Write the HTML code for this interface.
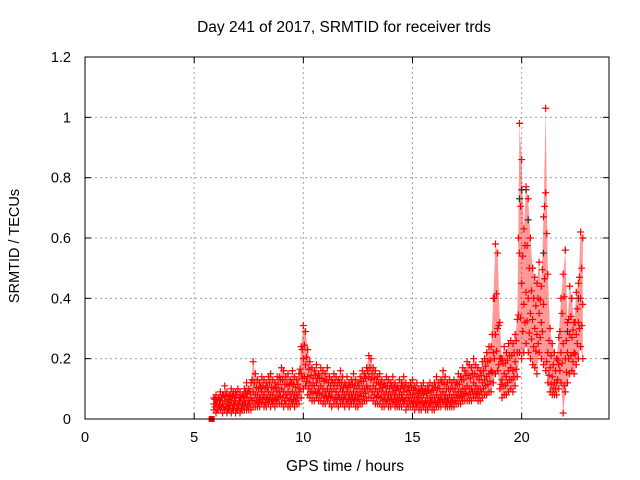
<!DOCTYPE html>
<html><head><meta charset="utf-8"><style>
body{margin:0;background:#fff}
svg{display:block;font-family:"Liberation Sans",sans-serif}
</style></head><body>
<svg id="chart" width="640" height="480">
<text x="344" y="32" font-size="15.5" text-anchor="middle">Day 241 of 2017, SRMTID for receiver trds</text>
<text transform="translate(19,246) rotate(-90)" font-size="14.5" text-anchor="middle">SRMTID / TECUs</text>
<text x="345" y="471" font-size="15.5" text-anchor="middle">GPS time / hours</text>
<g id="grid"></g><g id="ticks"></g><g id="band"></g><g id="marks"></g>
<rect x="85" y="57" width="524" height="362" fill="none" stroke="#000" stroke-width="1"/>
</svg>
<script>
const xTicks=[0,5,10,15,20];
const yTicks=[0,0.2,0.4,0.6,0.8,1,1.2];
const yTickLabels=["0","0.2","0.4","0.6","0.8","1","1.2"];
const times=[5.9,6.0,6.1,6.2,6.3,6.4,6.5,6.6,6.7,6.8,
6.9,7.0,7.1,7.2,7.3,7.4,7.5,7.6,7.7,7.8,
7.9,8.0,8.1,8.2,8.3,8.4,8.5,8.6,8.7,8.8,
8.9,9.0,9.1,9.2,9.3,9.4,9.5,9.6,9.7,9.8,
9.9,10.0,10.1,10.2,10.3,10.4,10.5,10.6,10.7,10.8,
10.9,11.0,11.1,11.2,11.3,11.4,11.5,11.6,11.7,11.8,
11.9,12.0,12.1,12.2,12.3,12.4,12.5,12.6,12.7,12.8,
12.9,13.0,13.1,13.2,13.3,13.4,13.5,13.6,13.7,13.8,
13.9,14.0,14.1,14.2,14.3,14.4,14.5,14.6,14.7,14.8,
14.9,15.0,15.1,15.2,15.3,15.4,15.5,15.6,15.7,15.8,
15.9,16.0,16.1,16.2,16.3,16.4,16.5,16.6,16.7,16.8,
16.9,17.0,17.1,17.2,17.3,17.4,17.5,17.6,17.7,17.8,
17.9,18.0,18.1,18.2,18.3,18.4,18.5,18.6,18.7,18.8,
18.9,19.0,19.1,19.2,19.3,19.4,19.5,19.6,19.7,19.8,
19.9,20.0,20.1,20.2,20.3,20.4,20.5,20.6,20.7,20.8,
20.9,21.0,21.1,21.2,21.3,21.4,21.5,21.6,21.7,21.8,
21.9,22.0,22.1,22.2,22.3,22.4,22.5,22.6,22.7,22.8];
const hi=[.07,.08,.07,.09,.08,.11,.09,.08,.10,.09,
.09,.10,.09,.08,.10,.12,.10,.12,.19,.15,
.13,.12,.14,.13,.12,.14,.15,.13,.12,.14,
.14,.17,.16,.14,.15,.13,.16,.14,.13,.15,
.24,.31,.29,.23,.19,.17,.16,.18,.15,.17,
.16,.15,.17,.14,.13,.15,.14,.13,.16,.14,
.12,.14,.12,.13,.15,.13,.12,.14,.16,.15,
.17,.21,.20,.17,.16,.14,.15,.13,.12,.14,
.13,.12,.14,.12,.11,.13,.12,.14,.12,.11,
.12,.13,.11,.12,.10,.11,.12,.10,.11,.12,
.11,.12,.14,.12,.13,.16,.14,.12,.13,.12,
.13,.12,.15,.14,.17,.16,.19,.18,.17,.20,
.18,.17,.16,.19,.20,.22,.24,.24,.40,.58,
.55,.32,.20,.24,.22,.25,.26,.25,.28,.33,
.98,.86,.63,.77,.73,.60,.50,.47,.45,.52,
.44,.67,1.03,.48,.30,.25,.22,.20,.27,.40,
.48,.56,.32,.44,.40,.32,.42,.45,.62,.60];
const mid=[.05,.05,.04,.06,.05,.06,.05,.05,.06,.05,
.06,.05,.06,.05,.06,.07,.06,.07,.09,.08,
.08,.07,.09,.08,.07,.09,.08,.08,.07,.09,
.09,.10,.09,.08,.09,.08,.09,.08,.08,.09,
.15,.20,.18,.14,.12,.11,.11,.12,.10,.11,
.10,.09,.10,.09,.09,.10,.09,.08,.10,.09,
.08,.09,.08,.08,.09,.08,.08,.09,.10,.10,
.11,.14,.13,.11,.10,.09,.10,.09,.08,.09,
.08,.08,.09,.08,.07,.08,.08,.09,.07,.07,
.08,.08,.07,.07,.07,.07,.08,.06,.07,.07,
.07,.07,.08,.07,.08,.09,.08,.07,.08,.07,
.08,.08,.09,.09,.10,.10,.11,.10,.10,.12,
.11,.10,.10,.12,.13,.14,.15,.16,.22,.28,
.30,.20,.13,.15,.14,.16,.17,.16,.19,.22,
.55,.45,.38,.42,.40,.35,.33,.30,.28,.35,
.32,.38,.75,.22,.17,.14,.12,.12,.18,.22,
.25,.20,.22,.28,.27,.22,.28,.32,.40,.38];
const lo=[.03,.02,.03,.03,.02,.03,.02,.03,.02,.03,
.02,.03,.02,.03,.03,.03,.03,.03,.04,.04,
.04,.04,.05,.04,.04,.05,.04,.05,.04,.05,
.05,.05,.04,.05,.04,.04,.05,.04,.05,.05,
.07,.10,.11,.08,.07,.06,.06,.07,.06,.06,
.05,.05,.06,.05,.04,.05,.05,.04,.05,.05,
.04,.05,.04,.05,.05,.04,.04,.05,.05,.06,
.06,.07,.07,.06,.05,.05,.05,.04,.04,.05,
.04,.04,.05,.04,.04,.04,.04,.05,.03,.04,
.04,.04,.03,.04,.03,.03,.04,.03,.03,.04,
.03,.03,.04,.04,.04,.05,.04,.04,.04,.04,
.04,.05,.05,.05,.06,.06,.06,.06,.06,.07,
.07,.06,.06,.07,.08,.08,.09,.09,.12,.15,
.16,.10,.07,.08,.08,.09,.10,.09,.11,.14,
.22,.20,.22,.25,.22,.20,.18,.17,.15,.22,
.20,.18,.16,.12,.09,.08,.08,.08,.10,.12,
.02,.09,.12,.15,.16,.15,.18,.20,.24,.20];
const darkTimes=[19.9,20.0,20.2,20.3,20.5,21.0,22.0,22.1,22.3,22.6];
const darkVals=[.73,.76,.76,.66,.50,.55,.56,.29,.40,.40];
const squareTime=5.8, squareVal=0.0;

const X0=85,X1=609,Y0=419,Y1=57,XMAX=24,YMAX=1.2;
function xs(t){return X0+(X1-X0)*t/XMAX;}
function ys(v){return Y0-(Y0-Y1)*v/YMAX;}
const NS="http://www.w3.org/2000/svg";
function mk(tag,attrs,parent){const e=document.createElementNS(NS,tag);for(const k in attrs)e.setAttribute(k,attrs[k]);parent.appendChild(e);return e;}
const grid=document.getElementById('grid'),ticks=document.getElementById('ticks'),band=document.getElementById('band'),marks=document.getElementById('marks');
xTicks.forEach(t=>{const x=xs(t);
 if(t>0){const g=mk('line',{x1:x,x2:x,y1:Y1,y2:Y0,stroke:'#a0a0a0','stroke-dasharray':'2,3'},grid);
 
 }
 mk('line',{x1:x,x2:x,y1:Y0,y2:Y0-6,stroke:'#000'},ticks);
 mk('line',{x1:x,x2:x,y1:Y1,y2:Y1+6,stroke:'#000'},ticks);
 const l=mk('text',{x:x,y:442,'font-size':'14.5','text-anchor':'middle'},ticks);l.textContent=t;
 
 
});
yTicks.forEach((v,i)=>{const y=ys(v);
 if(v>0&&v<YMAX){const g=mk('line',{x1:X0,x2:X1,y1:y,y2:y,stroke:'#a0a0a0','stroke-dasharray':'2,3'},grid);
 
 }
 mk('line',{x1:X0,x2:X0+6,y1:y,y2:y,stroke:'#000'},ticks);
 mk('line',{x1:X1,x2:X1-6,y1:y,y2:y,stroke:'#000'},ticks);
 const l=mk('text',{x:71,y:y+5,'font-size':'14.5','text-anchor':'end'},ticks);l.textContent=yTickLabels[i];
 
 
});
let d='';times.forEach((t,i)=>{d+=(i?'L':'M')+xs(t)+','+ys(hi[i]);});
for(let i=times.length-1;i>=0;i--)d+='L'+xs(times[i])+','+ys(lo[i]);
const b=mk('path',{d:d+'Z',fill:'#ff0000','fill-opacity':'0.4'},band);


function plus(t,v,col){const x=xs(t),y=ys(v);
 const p=mk('path',{d:`M${x-3.5},${y}H${x+3.5}M${x},${y-3.5}V${y+3.5}`,stroke:col,'stroke-width':1.2,fill:'none'},marks);
 
 }
darkTimes.forEach((t,i)=>plus(t,darkVals[i],'#333'));
times.forEach((t,i)=>{plus(t,lo[i],'#f00');plus(t,mid[i],'#f00');plus(t,hi[i],'#f00');
 if(i<times.length-1){plus(t+0.05,(lo[i]+mid[i+1])/2,'#f00');plus(t+0.05,(mid[i]+hi[i+1])/2,'#f00');}});
const sq=mk('rect',{x:xs(squareTime)-3,y:ys(squareVal)-3,width:6,height:6,fill:'#f00'},marks);


</script>
</body></html>
